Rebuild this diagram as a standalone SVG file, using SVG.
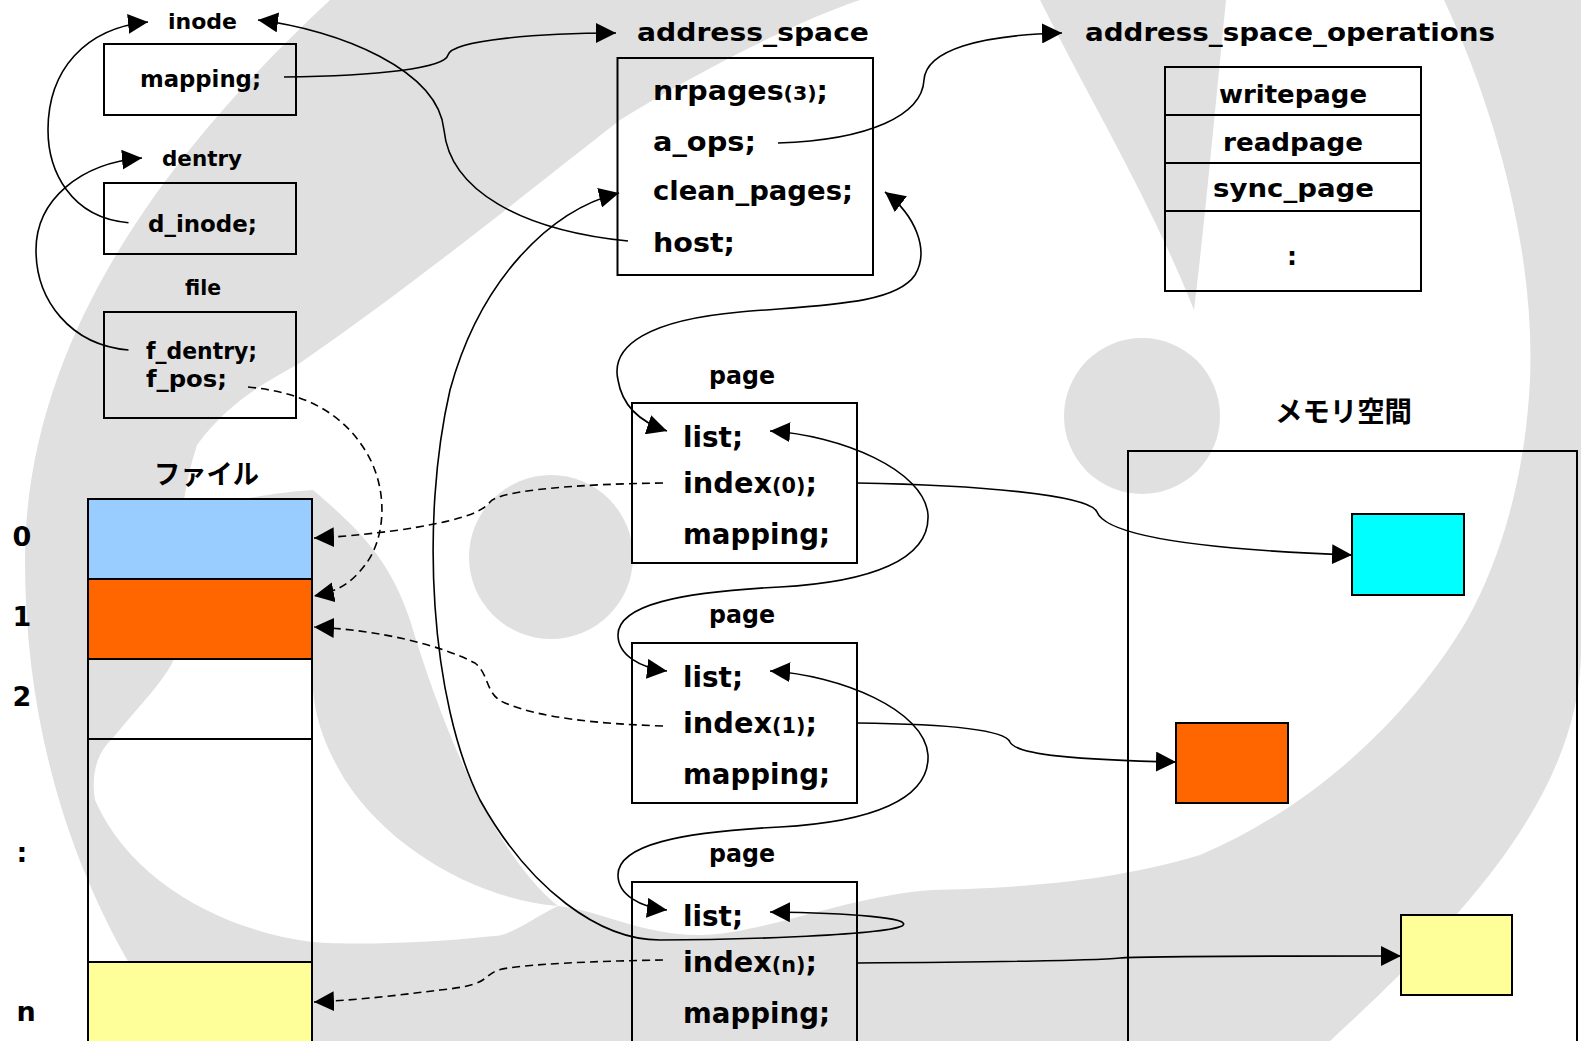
<svg xmlns="http://www.w3.org/2000/svg" width="1581" height="1041" viewBox="0 0 1581 1041">
  <style>
    .box { fill: none; stroke: #000; stroke-width: 2; }
    .cell { stroke: #000; stroke-width: 2; }
    .t { font-family: "DejaVu Sans", "Liberation Sans", sans-serif; font-weight: bold; fill: #000; }
    .jp { font-family: "Noto Sans CJK JP", "DejaVu Sans", sans-serif; font-weight: bold; fill: #000; }
    .lbl { font-size: 22px; }
    .fld { font-size: 23px; }
    .hdr { font-size: 25px; }
    .pf { font-size: 29px; }
    .sm { font-size: 0.72em; }
    .link { fill: none; stroke: #000; stroke-width: 1.6; }
    .dash { fill: none; stroke: #000; stroke-width: 1.6; stroke-dasharray: 8 5; }
    .wm { fill: #e0e0e0; }
  </style>
  <defs>
    <marker id="ah" viewBox="0 0 20 20" refX="20" refY="10" markerWidth="20" markerHeight="20" markerUnits="userSpaceOnUse" orient="auto-start-reverse">
      <path d="M0,0 L20,10 L0,20 Z" fill="#000"/>
    </marker>
  </defs>

  <rect width="1581" height="1041" fill="#fff"/>

  <!-- background emblem -->
  <g id="watermark">
    <path class="wm" d="M330,0 C 180,140 25,330 25,560 C 25,760 90,920 180,1041 L 1330,1041 C 1450,930 1581,800 1581,650 L 1581,0 L 1444,0 C 1500,120 1535,260 1530,380 C 1525,480 1500,560 1467,620 C 1420,700 1330,800 1200,855 C 1100,885 1000,888 933,890 C 850,895 760,935 700,935 C 640,935 600,910 558,906 C 530,920 510,936 494,936 C 420,944 350,945 312,942 C 220,930 130,880 95,800 C 90,770 100,750 112,739 C 140,705 165,680 174,659 C 180,600 172,520 197,445 C 230,400 270,380 300,363 C 420,280 530,190 620,120 C 700,70 800,20 860,0 Z"/>
    <path class="wm" d="M170,520 C 220,500 280,492 313,490 C 360,530 390,560 410,620 C 440,720 490,850 558,906 C 480,900 390,850 345,780 C 315,730 312,700 312,660 L 170,660 Z"/>
    <circle class="wm" cx="551" cy="557" r="82"/>
    <circle class="wm" cx="1142" cy="416" r="78"/>
    <path class="wm" d="M1040,0 L1226,0 C 1215,110 1205,220 1194,310 C 1150,200 1090,100 1040,0 Z"/>
  </g>

  <!-- file column -->
  <g id="file-blocks">
    <rect class="cell" x="88" y="499" width="224" height="80" fill="#99ccff"/>
    <rect class="cell" x="88" y="579" width="224" height="80" fill="#ff6600"/>
    <rect class="cell" x="88" y="659" width="224" height="80" fill="none"/>
    <rect class="cell" x="88" y="739" width="224" height="223" fill="none"/>
    <rect class="cell" x="88" y="962" width="224" height="90" fill="#ffff99"/>
    <text class="jp" x="154" y="484" font-size="27" textLength="105" lengthAdjust="spacingAndGlyphs">ファイル</text>
    <g class="t" font-size="27" text-anchor="middle">
      <text x="22" y="546">0</text>
      <text x="22" y="626">1</text>
      <text x="22" y="706">2</text>
      <text x="22" y="862">:</text>
      <text x="26" y="1021">n</text>
    </g>
  </g>

  <g id="inode">
    <text class="t lbl" x="168" y="29" textLength="69" lengthAdjust="spacingAndGlyphs">inode</text>
    <rect class="box" x="104" y="44" width="192" height="71"/>
    <text class="t fld" x="140" y="87" textLength="121" lengthAdjust="spacingAndGlyphs">mapping;</text>
  </g>

  <g id="dentry">
    <text class="t lbl" x="162" y="166" textLength="80" lengthAdjust="spacingAndGlyphs">dentry</text>
    <rect class="box" x="104" y="183" width="192" height="71"/>
    <text class="t fld" x="148" y="232" textLength="109" lengthAdjust="spacingAndGlyphs">d_inode;</text>
  </g>

  <g id="file">
    <text class="t lbl" x="185" y="295" textLength="36" lengthAdjust="spacingAndGlyphs">file</text>
    <rect class="box" x="104" y="312" width="192" height="106"/>
    <text class="t fld" x="146" y="359" textLength="111" lengthAdjust="spacingAndGlyphs">f_dentry;</text>
    <text class="t fld" x="146" y="387" textLength="81" lengthAdjust="spacingAndGlyphs">f_pos;</text>
  </g>

  <g id="address_space">
    <text class="t hdr" x="637" y="41" textLength="232" lengthAdjust="spacingAndGlyphs">address_space</text>
    <rect class="box" x="617.5" y="58" width="255.5" height="217"/>
    <g class="t" font-size="26">
      <text x="653" y="100" textLength="175" lengthAdjust="spacingAndGlyphs">nrpages<tspan class="sm">(3)</tspan>;</text>
      <text x="653" y="151" textLength="103" lengthAdjust="spacingAndGlyphs">a_ops;</text>
      <text x="653" y="200" textLength="200" lengthAdjust="spacingAndGlyphs">clean_pages;</text>
      <text x="653" y="252" textLength="82" lengthAdjust="spacingAndGlyphs">host;</text>
    </g>
  </g>

  <g id="address_space_operations">
    <text class="t hdr" x="1085" y="41" textLength="410" lengthAdjust="spacingAndGlyphs">address_space_operations</text>
    <rect class="box" x="1165" y="67" width="256" height="224"/>
    <path class="box" d="M1165,115 H1421 M1165,163 H1421 M1165,211 H1421"/>
    <g class="t hdr">
      <text x="1219" y="103" textLength="148" lengthAdjust="spacingAndGlyphs">writepage</text>
      <text x="1223" y="151" textLength="140" lengthAdjust="spacingAndGlyphs">readpage</text>
      <text x="1213" y="197" textLength="161" lengthAdjust="spacingAndGlyphs">sync_page</text>
      <text x="1292" y="265" text-anchor="middle">:</text>
    </g>
  </g>

  <g id="page0">
    <text class="t hdr" x="709" y="384" textLength="66" lengthAdjust="spacingAndGlyphs">page</text>
    <rect class="box" x="632" y="403" width="225" height="160"/>
    <g class="t pf">
      <text x="683" y="447" textLength="60" lengthAdjust="spacingAndGlyphs">list;</text>
      <text x="683" y="493" textLength="134" lengthAdjust="spacingAndGlyphs">index<tspan class="sm">(0)</tspan>;</text>
      <text x="683" y="544" textLength="147" lengthAdjust="spacingAndGlyphs">mapping;</text>
    </g>
  </g>

  <g id="page1">
    <text class="t hdr" x="709" y="623" textLength="66" lengthAdjust="spacingAndGlyphs">page</text>
    <rect class="box" x="632" y="643" width="225" height="160"/>
    <g class="t pf">
      <text x="683" y="687" textLength="60" lengthAdjust="spacingAndGlyphs">list;</text>
      <text x="683" y="733" textLength="134" lengthAdjust="spacingAndGlyphs">index<tspan class="sm">(1)</tspan>;</text>
      <text x="683" y="784" textLength="147" lengthAdjust="spacingAndGlyphs">mapping;</text>
    </g>
  </g>

  <g id="pagen">
    <text class="t hdr" x="709" y="862" textLength="66" lengthAdjust="spacingAndGlyphs">page</text>
    <rect class="box" x="632" y="882" width="225" height="170"/>
    <g class="t pf">
      <text x="683" y="926" textLength="60" lengthAdjust="spacingAndGlyphs">list;</text>
      <text x="683" y="972" textLength="134" lengthAdjust="spacingAndGlyphs">index<tspan class="sm">(n)</tspan>;</text>
      <text x="683" y="1023" textLength="147" lengthAdjust="spacingAndGlyphs">mapping;</text>
    </g>
  </g>

  <g id="memory">
    <text class="jp" x="1275" y="422" font-size="28" textLength="137" lengthAdjust="spacingAndGlyphs">メモリ空間</text>
    <rect class="box" x="1128" y="451" width="449" height="601"/>
    <rect class="cell" x="1352" y="514" width="112" height="81" fill="#00ffff"/>
    <rect class="cell" x="1176" y="723" width="112" height="80" fill="#ff6600"/>
    <rect class="cell" x="1401" y="915" width="111" height="80" fill="#ffff99"/>
  </g>

  <g id="connectors">
    <!-- struct pointers -->
    <path class="link" marker-end="url(#ah)" d="M128.5,222.7 C 70,218 48,170 48,130 C 48,70 85,28 148,22"/>
    <path class="link" marker-end="url(#ah)" d="M128.5,350 C 70,345 36,300 36,250 C 36,200 80,163 142,158"/>
    <path class="link" marker-end="url(#ah)" d="M284,77 C 380,76 445,68 448,55 C 452,40 540,33 616,33"/>
    <path class="link" marker-end="url(#ah)" d="M628,241 C 520,230 450,190 444,130 C 438,70 340,30 258,20"/>
    <path class="link" marker-end="url(#ah)" d="M778,143 C 870,140 922,115 924,80 C 926,50 980,35 1062,33"/>
    <!-- page list chain -->
    <path class="link" marker-start="url(#ah)" marker-end="url(#ah)" d="M885,192 C 915,215 930,250 915,275 C 895,305 820,305 740,312 C 650,320 610,345 618,380 C 622,405 640,422 667,431"/>
    <path class="link" marker-start="url(#ah)" marker-end="url(#ah)" d="M770,431 C 840,435 925,470 928,515 C 930,560 870,582 780,587 C 680,592 618,605 618,635 C 618,655 640,668 667,671"/>
    <path class="link" marker-start="url(#ah)" marker-end="url(#ah)" d="M770,671 C 840,675 925,710 928,755 C 930,800 870,822 780,827 C 680,832 618,845 618,875 C 618,895 640,907 667,910"/>
    <path class="link" marker-start="url(#ah)" marker-end="url(#ah)" d="M770,912 C 850,913 915,918 902,926 C 880,936 720,940 660,940 C 600,940 530,890 480,800 C 430,700 420,520 450,390 C 480,280 550,210 619,193"/>
    <!-- page frames in memory -->
    <path class="link" marker-end="url(#ah)" d="M857,483 C 980,485 1090,495 1097,512 C 1104,530 1160,548 1352,555"/>
    <path class="link" marker-end="url(#ah)" d="M857,723 C 950,724 1005,730 1010,742 C 1016,755 1080,760 1176,762"/>
    <path class="link" marker-end="url(#ah)" d="M857,963 C 1000,962 1100,960 1120,958 C 1140,956 1300,956 1401,956"/>
    <!-- file offsets -->
    <path class="dash" marker-end="url(#ah)" d="M248,387 C 300,392 340,410 365,450 C 390,490 385,540 365,565 C 350,585 335,592 314,596"/>
    <path class="dash" marker-end="url(#ah)" d="M663,483 C 580,484 500,490 490,502 C 480,515 450,522 400,530 C 360,535 340,537 314,538"/>
    <path class="dash" marker-end="url(#ah)" d="M663,726 C 600,724 540,718 505,703 C 485,695 490,675 475,663 C 440,645 380,630 314,627"/>
    <path class="dash" marker-end="url(#ah)" d="M663,960 C 600,961 520,964 498,970 C 480,978 490,985 440,990 C 400,995 360,1000 314,1002"/>
  </g>
</svg>
